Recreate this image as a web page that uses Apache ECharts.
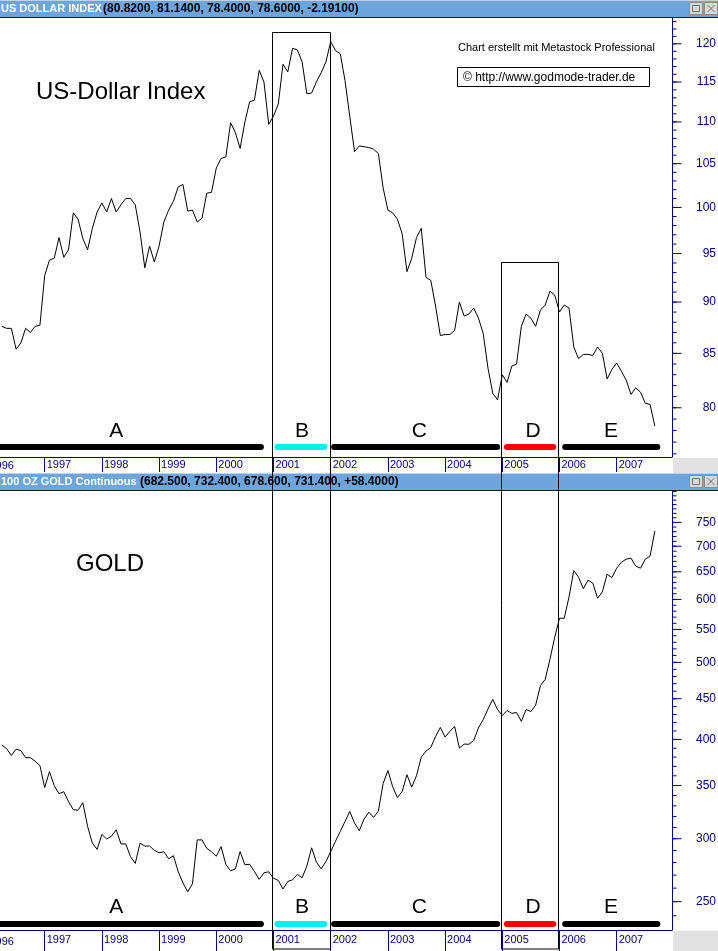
<!DOCTYPE html>
<html><head><meta charset="utf-8">
<script src="https://cdn.jsdelivr.net/npm/echarts@6/dist/echarts.min.js"></script>
<style>html,body{margin:0;padding:0;background:#fff;}#c{width:718px;height:951px;}</style>
</head><body><div id="c"></div>
<script>
// ---- data ----
const startYear = 1996, startMonth = 4; // first monthly close: April 1996
const usd = [
  87.6, 87.4, 87.4, 85.4, 86.0, 87.4, 87.0, 87.6, 87.7,
  92.7, 94.3, 94.5, 96.7, 94.6, 95.4, 99.4, 98.7, 96.6, 95.4, 97.7, 99.5,
  100.5, 99.5, 101.0, 99.5, 100.3, 101.0, 101.0, 100.3, 97.3, 93.5, 95.8, 94.1,
  95.8, 98.4, 99.7, 100.7, 102.3, 102.6, 99.6, 99.7, 98.4, 98.8, 101.6, 101.7,
  104.5, 105.6, 105.8, 109.9, 108.7, 106.8, 110.0, 112.5, 112.7, 116.5, 115.0, 109.7,
  110.7, 112.2, 117.3, 116.3, 119.4, 119.2, 117.6, 113.5, 113.6, 115.0, 116.2, 117.6,
  120.3, 119.1, 118.7, 115.2, 110.7, 106.4, 107.1, 107.0, 106.9, 106.7, 106.2, 102.2,
  99.7, 99.4, 98.7, 97.1, 93.1, 94.5, 96.7, 97.7, 92.5, 92.2, 89.6, 86.7,
  86.8, 86.8, 87.2, 90.0, 88.6, 88.8, 89.4, 88.4, 86.9, 83.6, 81.3, 80.7,
  83.0, 82.3, 83.8, 84.0, 87.6, 88.8, 88.4, 87.6, 89.2, 89.7, 91.1, 90.7,
  89.0, 89.7, 89.4, 85.6, 84.5, 84.9, 84.9, 84.8, 85.6, 85.0, 82.6, 83.5,
  84.1, 83.3, 82.5, 81.2, 81.8, 81.4, 80.4, 80.3, 78.4
];
const gold = [
  393.4, 389.5, 381.8, 388.9, 387.2, 379.4, 379.4, 375.6, 370.8,
  347.9, 364.4, 349.8, 341.8, 343.8, 334.0, 326.3, 325.8, 333.0, 310.9, 296.2, 290.9,
  303.7, 299.8, 302.2, 307.9, 295.5, 295.5, 284.9, 279.3, 296.2, 293.7, 293.7, 290.1,
  288.0, 288.9, 283.1, 285.6, 272.9, 264.0, 257.2, 263.3, 299.0, 299.0, 291.8, 288.9,
  285.2, 293.2, 278.6, 273.3, 274.9, 289.0, 278.2, 278.6, 272.9, 266.7, 271.8, 272.6,
  267.5, 265.9, 259.3, 265.1, 266.3, 270.6, 267.9, 277.2, 292.2, 280.4, 274.9, 280.8,
  289.0, 297.8, 306.3, 315.3, 324.7, 313.9, 307.0, 317.6, 324.0, 319.1, 325.0, 352.0,
  365.5, 348.8, 338.0, 344.0, 361.1, 348.3, 360.1, 380.0, 386.7, 390.8, 403.3, 414.1,
  402.7, 409.3, 415.4, 390.1, 394.6, 394.4, 398.7, 413.5, 423.7, 436.8, 449.1, 436.2,
  428.7, 434.9, 431.4, 432.4, 421.5, 436.2, 433.6, 441.8, 467.5, 475.9, 504.4, 537.8,
  568.2, 568.2, 604.4, 652.2, 640.0, 618.9, 634.5, 628.9, 602.0, 613.3, 645.6, 639.1,
  656.9, 668.4, 674.3, 676.3, 660.8, 656.9, 674.3, 680.2, 731.4
];
const yearTicks = [1997, 1998, 1999, 2000, 2001, 2002, 2003, 2004, 2005, 2006, 2007];
const usdTicks = [80, 85, 90, 95, 100, 105, 110, 115, 120];
const goldTicks = [250, 300, 350, 400, 450, 500, 550, 600, 650, 700, 750];
const usdMinorTicks = [];
for (let v = 76; v <= 123; v++) usdMinorTicks.push(v);
const goldMinorTicks = [];
for (let v = 240; v <= 820; v += 10) goldMinorTicks.push(v);
const xRange = [1996.2185, 2007.967];
const usdRange = [75.73, 123.5];
const goldRange = [230.3, 821.4];
const phaseLabels = ['A', 'B', 'C', 'D', 'E'];
const phaseStart = [1996.22, 2001.07, 2002.06, 2005.08, 2006.10];
const phaseEnd = [2000.78, 2001.89, 2004.91, 2005.89, 2007.71];
const phaseLabelAt = [1998.25, 2001.5, 2003.55, 2005.54, 2006.9];
const boxRanges = [[2001, 2002], [2005, 2006]];
const boxTopUsd = [121.6, 94.06];
const usdHeader = ['US DOLLAR INDEX', '(80.8200, 81.1400, 78.4000, 78.6000, -2.19100)'];
const goldHeader = ['100 OZ GOLD Continuous', '(682.500, 732.400, 678.600, 731.400, +58.4000)'];

// ---- build ----
const months = usd.map((_, i) => {
  const m = startMonth - 1 + i;
  return startYear + Math.floor(m / 12) + (m % 12) / 12;
});
const FONT = '"Liberation Sans", Arial, sans-serif';
const NAVY = '#000080';

function xAxisFor(gi, tickLen, labelMargin) {
  return {
    type: 'value', gridIndex: gi, min: xRange[0], max: xRange[1], position: 'bottom',
    axisLine: {show: true, onZero: false, lineStyle: {color: NAVY, width: 1}},
    axisTick: {show: true, customValues: yearTicks, length: tickLen, lineStyle: {color: NAVY, width: 1}},
    axisLabel: {customValues: yearTicks, color: NAVY, fontSize: 11, fontFamily: FONT, align: 'left',
      margin: labelMargin, padding: [0, 0, 0, 2], formatter: v => String(Math.round(v))},
    splitLine: {show: false}
  };
}
function yAxisFor(gi, range, tickVals) {
  return {
    type: 'log', logBase: 10, gridIndex: gi, min: range[0], max: range[1], position: 'right',
    axisLine: {show: true, lineStyle: {color: NAVY, width: 1}},
    axisTick: {show: false},
    axisLabel: {customValues: tickVals, color: NAVY, fontSize: 12, fontFamily: FONT, align: 'right', margin: 44,
      formatter: v => String(Math.round(v))},
    splitLine: {show: false}, minorTick: {show: false}
  };
}
// tick marks on the value axes, placed by the log scales
function tickSeries(xi, yi, vals, len) {
  return {
    type: 'scatter', xAxisIndex: xi, yAxisIndex: yi, silent: true, clip: false, z: 5,
    data: vals.map(v => [xRange[1], v]),
    symbol: 'rect', symbolSize: [len, 1], symbolOffset: [len / 2 + 0.5, 0],
    itemStyle: {color: NAVY, opacity: 1}
  };
}

const chart = echarts.init(document.getElementById('c'), null, {renderer: 'canvas'});
chart.setOption({
  animation: false,
  backgroundColor: '#ffffff',
  grid: [
    {left: 0, right: 46, top: 18, height: 439, containLabel: false, outerBoundsMode: 'none'},
    {left: 0, right: 46, top: 491, height: 439, containLabel: false, outerBoundsMode: 'none'}
  ],
  xAxis: [xAxisFor(0, 15, 2), xAxisFor(1, 21, 4)],
  yAxis: [yAxisFor(0, usdRange, usdTicks), yAxisFor(1, goldRange, goldTicks)],
  series: [
    {type: 'line', xAxisIndex: 0, yAxisIndex: 0, data: months.map((m, i) => [m, usd[i]]),
      showSymbol: false, lineStyle: {color: '#000', width: 1}, silent: true},
    {type: 'line', xAxisIndex: 1, yAxisIndex: 1, data: months.map((m, i) => [m, gold[i]]),
      showSymbol: false, lineStyle: {color: '#000', width: 1}, silent: true},
    tickSeries(0, 0, usdMinorTicks, 4),
    tickSeries(0, 0, usdTicks, 9),
    tickSeries(1, 1, goldMinorTicks, 4),
    tickSeries(1, 1, goldTicks, 9)
  ]
});

// ---- annotations placed through the axes ----
const px = v => chart.convertToPixel({xAxisIndex: 0}, v);
const pyUsd = v => chart.convertToPixel({yAxisIndex: 0}, v);
const g = [];

function header(y0, texts, valueX) {
  g.push({type: 'rect', shape: {x: 0, y: y0, width: 718, height: 17}, style: {fill: '#6ea5dd'}, z: 100, silent: true});
  g.push({type: 'line', shape: {x1: 0, y1: y0 + 0.5, x2: 718, y2: y0 + 0.5}, style: {stroke: '#b9d3ef', lineWidth: 1}, z: 101});
  g.push({type: 'line', shape: {x1: 0, y1: y0 + 17.5, x2: 718, y2: y0 + 17.5}, style: {stroke: '#1a1a1a', lineWidth: 1}, z: 101});
  g.push({type: 'text', z: 102, style: {x: 1, y: y0 + 9, text: texts[0], fill: '#ffffff', font: 'bold 11px ' + FONT, verticalAlign: 'middle'}});
  g.push({type: 'text', z: 102, style: {x: valueX, y: y0 + 9, text: texts[1], fill: '#000000', font: 'bold 12px ' + FONT, verticalAlign: 'middle'}});
  // window buttons
  g.push({type: 'rect', z: 102, shape: {x: 689.5, y: y0 + 2.5, width: 13, height: 12}, style: {fill: '#d8d8d8', stroke: '#8c8c8c', lineWidth: 1}});
  g.push({type: 'rect', z: 103, shape: {x: 692.5, y: y0 + 5.5, width: 7, height: 6}, style: {fill: 'none', stroke: '#707070', lineWidth: 1}});
  g.push({type: 'rect', z: 102, shape: {x: 704.5, y: y0 + 2.5, width: 13, height: 12}, style: {fill: '#d8d8d8', stroke: '#8c8c8c', lineWidth: 1}});
  g.push({type: 'line', z: 103, shape: {x1: 707.5, y1: y0 + 5, x2: 714.5, y2: y0 + 12}, style: {stroke: '#707070', lineWidth: 1}});
  g.push({type: 'line', z: 103, shape: {x1: 714.5, y1: y0 + 5, x2: 707.5, y2: y0 + 12}, style: {stroke: '#707070', lineWidth: 1}});
}
header(0, usdHeader, 103);
header(473, goldHeader, 140);

// gray corner patches below the value axes
g.push({type: 'rect', z: 50, shape: {x: 673, y: 458, width: 45, height: 15}, style: {fill: '#e2e2e2'}});
g.push({type: 'rect', z: 50, shape: {x: 673, y: 931, width: 45, height: 20}, style: {fill: '#e2e2e2'}});

// partially visible first year label
g.push({type: 'text', z: 60, style: {x: px(1996) + 2, y: 465.5, text: '1996', fill: NAVY, font: '11px ' + FONT, verticalAlign: 'middle'}});
g.push({type: 'text', z: 60, style: {x: px(1996) + 2, y: 941.5, text: '1996', fill: NAVY, font: '11px ' + FONT, verticalAlign: 'middle'}});

// titles and credits
g.push({type: 'text', z: 60, style: {x: 36, y: 92, text: 'US-Dollar Index', fill: '#000', font: '24px ' + FONT, verticalAlign: 'middle'}});
g.push({type: 'text', z: 60, style: {x: 76, y: 564, text: 'GOLD', fill: '#000', font: '24px ' + FONT, verticalAlign: 'middle'}});
g.push({type: 'text', z: 60, style: {x: 458, y: 47.5, text: 'Chart erstellt mit Metastock Professional', fill: '#000', font: '11px ' + FONT, verticalAlign: 'middle'}});
g.push({type: 'rect', z: 60, shape: {x: 457.5, y: 67.5, width: 192, height: 19}, style: {fill: '#fff', stroke: '#000', lineWidth: 1}});
g.push({type: 'text', z: 61, style: {x: 463, y: 77.5, text: '\u00A9 http://www.godmode-trader.de', fill: '#000', font: '12px ' + FONT, verticalAlign: 'middle'}});

// phase bars and letters
const phaseColors = ['#000000', '#00f0f0', '#000000', '#ff0000', '#000000'];
[[447, 431], [924, 907]].forEach(([barY, letterY]) => {
  phaseLabels.forEach((lab, i) => {
    g.push({type: 'line', z: 70, shape: {x1: px(phaseStart[i]), y1: barY, x2: px(phaseEnd[i]), y2: barY},
      style: {stroke: phaseColors[i], lineWidth: 6, lineCap: 'round'}});
    g.push({type: 'text', z: 70, style: {x: px(phaseLabelAt[i]), y: letterY, text: lab, fill: '#000', font: '21px ' + FONT, align: 'center', verticalAlign: 'middle'}});
  });
});

// framing boxes spanning both panels
boxRanges.forEach((r, i) => {
  const x1 = Math.round(px(r[0])) - 0.5, x2 = Math.round(px(r[1])) - 0.5;
  const y1 = Math.round(pyUsd(boxTopUsd[i])) + 0.5;
  g.push({type: 'rect', z: 120, shape: {x: x1, y: y1, width: x2 - x1, height: 949 - y1}, style: {fill: 'none', stroke: '#000', lineWidth: 1}});
});

chart.setOption({graphic: g});
</script>
</body></html>
